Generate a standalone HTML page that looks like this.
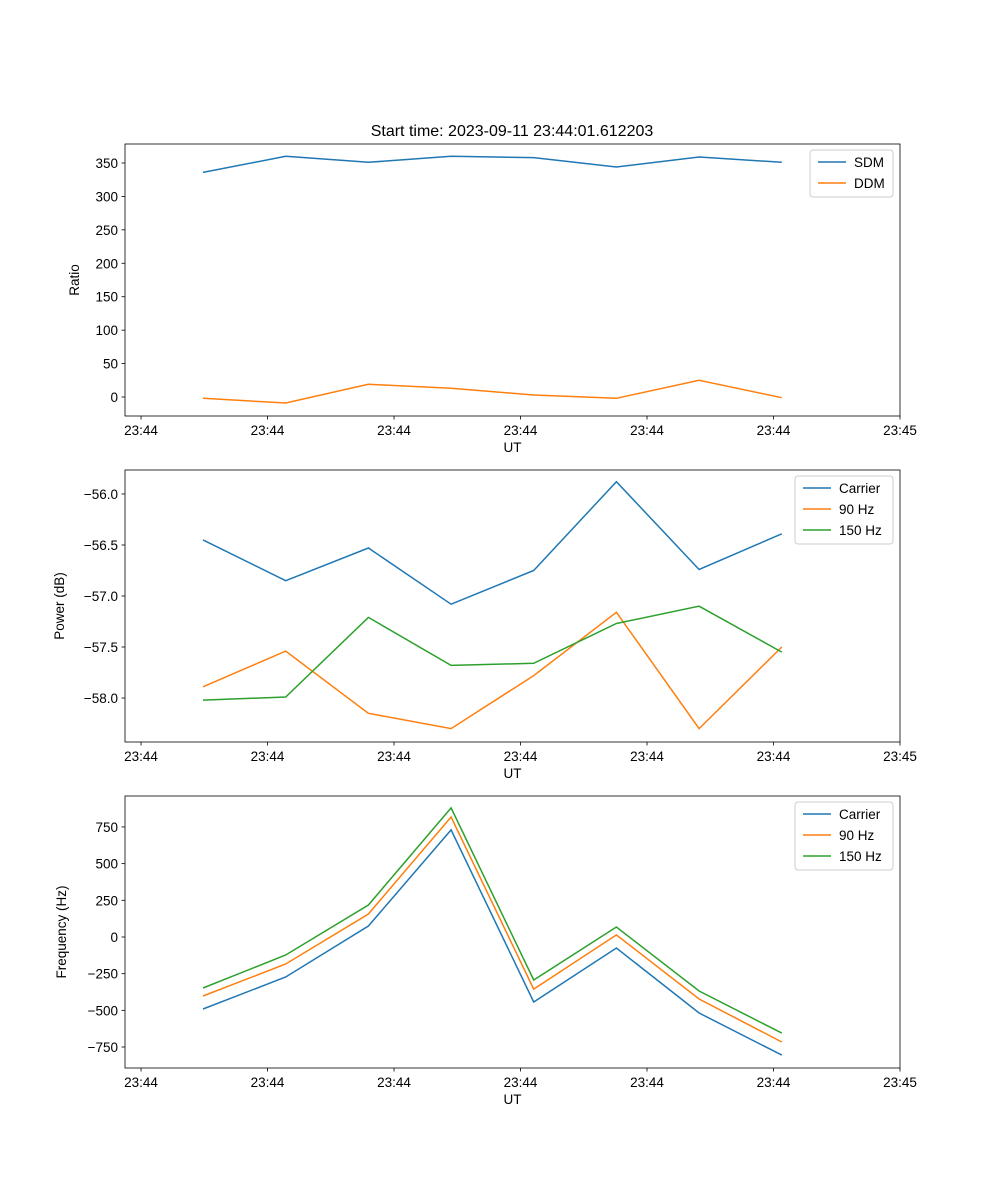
<!DOCTYPE html>
<html><head><meta charset="utf-8"><style>
body{margin:0;background:#fff}
svg{display:block;font-family:"Liberation Sans","DejaVu Sans",sans-serif}
</style></head><body>
<svg id="fig" width="1000" height="1200" viewBox="0 0 1000 1200" xmlns="http://www.w3.org/2000/svg">
<rect width="1000" height="1200" fill="#fff"/>
<text x="512" y="136" font-size="16" text-anchor="middle">Start time: 2023-09-11 23:44:01.612203</text>
</svg>
<script>
const xTickIdx = [-0.75, 0.78, 2.31, 3.84, 5.37, 6.90, 8.43];
const xTickLabels = ["23:44","23:44","23:44","23:44","23:44","23:44","23:45"];
const sdm = [336, 360, 351, 360, 358, 344, 359, 351];
const ddm = [-2, -9, 19, 13, 3, -2, 25, -1];
const pwrCarrier = [-56.45, -56.85, -56.53, -57.08, -56.75, -55.88, -56.74, -56.39];
const pwr90 = [-57.89, -57.54, -58.15, -58.30, -57.78, -57.16, -58.30, -57.50];
const pwr150 = [-58.02, -57.99, -57.21, -57.68, -57.66, -57.27, -57.10, -57.55];
const frqCarrier = [-491, -273, 75, 730, -443, -75, -518, -805];
const frq90 = [-402, -184, 157, 818, -355, 14, -423, -716];
const frq150 = [-348, -123, 218, 880, -293, 68, -368, -655];
const ratioTicks = [0, 50, 100, 150, 200, 250, 300, 350];
const powerTicks = [-58.0, -57.5, -57.0, -56.5, -56.0];
const freqTicks = [-750, -500, -250, 0, 250, 500, 750];

const NS = "http://www.w3.org/2000/svg";
const svg = document.getElementById('fig');
const X0 = 125, X1 = 900, IDX0 = -0.944, IDX1 = 8.43;
const xs = i => X0 + (i - IDX0) / (IDX1 - IDX0) * (X1 - X0);
const C = ['#1f77b4', '#ff7f0e', '#2ca02c'];
function mk(tag, attrs, parent) {
  const e = document.createElementNS(NS, tag);
  for (const k in attrs) e.setAttribute(k, attrs[k]);
  (parent || svg).appendChild(e);
  return e;
}
function panel(key, top, bot, ymin, ymax, yticks, fmt, ylabel, ylabelX, series, names, legW) {
  const g = mk('g', {});
  
  
  const ys = v => bot - (v - ymin) / (ymax - ymin) * (bot - top);
  series.forEach((s, si) => {
    const p = mk('polyline', {points: s.map((v, i) => xs(i).toFixed(1) + ',' + ys(v).toFixed(1)).join(' '), fill: 'none', stroke: C[si], 'stroke-width': 1.5}, g);
    
    
  });
  mk('rect', {x: X0, y: top, width: X1 - X0, height: bot - top, fill: 'none', stroke: '#000', 'stroke-width': 0.8}, g);
  xTickIdx.forEach((t, i) => {
    const x = xs(t);
    mk('line', {x1: x, x2: x, y1: bot, y2: bot + 3.5, stroke: '#000', 'stroke-width': 0.8}, g);
    const tx = mk('text', {x: x, y: bot + 19, 'font-size': 13.5, 'text-anchor': 'middle'}, g);
    tx.textContent = xTickLabels[i];
    
    
  });
  const xl = mk('text', {x: (X0 + X1) / 2, y: bot + 36, 'font-size': 13.5, 'text-anchor': 'middle'}, g);
  xl.textContent = 'UT';
  
  
  yticks.forEach(t => {
    const y = ys(t);
    mk('line', {x1: X0 - 3.5, x2: X0, y1: y, y2: y, stroke: '#000', 'stroke-width': 0.8}, g);
    const tx = mk('text', {x: X0 - 7, y: y + 5, 'font-size': 13.5, 'text-anchor': 'end'}, g);
    tx.textContent = fmt(t);
    
    
  });
  const cy = (top + bot) / 2;
  const yl = mk('text', {x: ylabelX, y: cy, 'font-size': 13.5, 'text-anchor': 'middle', transform: 'rotate(-90 ' + ylabelX + ' ' + cy + ')'}, g);
  yl.textContent = ylabel;
  
  
  const lx = X1 - 7 - legW, ly = top + 6, lh = 5 + names.length * 21;
  const lg = mk('g', {}, g);
  
  
  mk('rect', {x: lx, y: ly, width: legW, height: lh, rx: 3, fill: '#fff', 'fill-opacity': 0.8, stroke: '#ccc', 'stroke-width': 1}, lg);
  names.forEach((n, i) => {
    const yy = ly + 12 + i * 21;
    mk('line', {x1: lx + 8, x2: lx + 36, y1: yy, y2: yy, stroke: C[i], 'stroke-width': 1.5}, lg);
    const t = mk('text', {x: lx + 44, y: yy + 5, 'font-size': 13.5}, lg);
    t.textContent = n;
    
    
  });
}
panel('ratio', 144, 416, -28.4, 378.4, ratioTicks, v => String(v), 'Ratio', 79, [sdm, ddm], ['SDM', 'DDM'], 83);
panel('power', 470, 742, -58.431, -55.765, powerTicks, v => '\u2212' + Math.abs(v).toFixed(1), 'Power (dB)', 64, [pwrCarrier, pwr90, pwr150], ['Carrier', '90 Hz', '150 Hz'], 98);
panel('frequency', 796, 1068, -893, 961, freqTicks, v => v < 0 ? '\u2212' + Math.abs(v) : String(v), 'Frequency (Hz)', 66, [frqCarrier, frq90, frq150], ['Carrier', '90 Hz', '150 Hz'], 98);
</script>
</body></html>
